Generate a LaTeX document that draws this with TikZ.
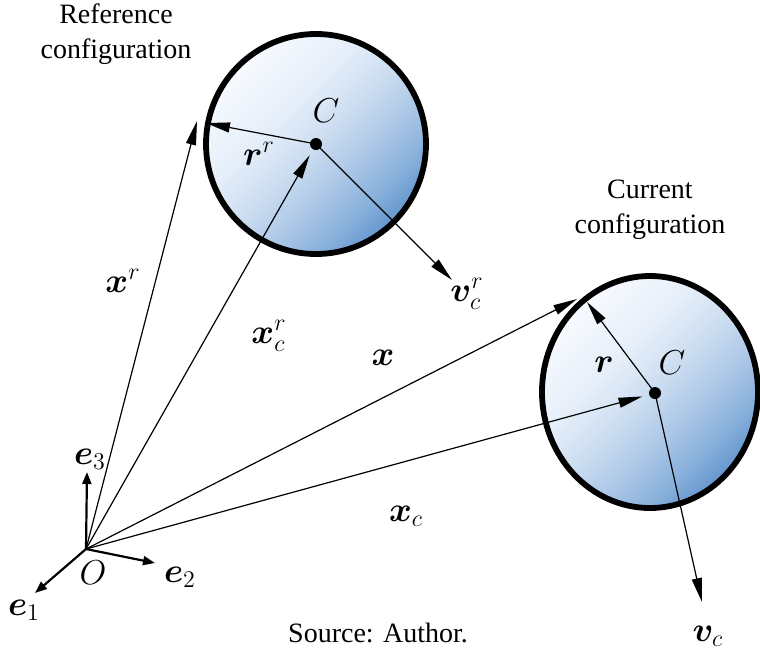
\documentclass[tikz,border=0pt]{standalone}
\usepackage{fontspec}
\setmainfont{Liberation Serif}
\usepackage{amsmath,bm}
\usetikzlibrary{arrows.meta,shapes.geometric}
\definecolor{shA}{RGB}{248,251,255}
\definecolor{shB}{RGB}{229,238,249}
\definecolor{shC}{RGB}{204,221,241}
\definecolor{shD}{RGB}{170,198,230}
\definecolor{shE}{RGB}{136,176,219}
\definecolor{shF}{RGB}{100,150,206}
\pgfdeclarehorizontalshading{ballshade}{100bp}{color(0bp)=(shA); color(25bp)=(shA); color(40bp)=(shB); color(50bp)=(shC); color(60bp)=(shD); color(68bp)=(shE); color(75bp)=(shF); color(100bp)=(shF)}
\begin{document}
\begin{tikzpicture}[x=0.5pt,y=-0.5pt,
  vec/.style={line width=0.6pt,-{Triangle[length=12pt,width=5pt]}},
  framevec/.style={line width=1.1pt,-{Triangle[length=6pt,width=4.5pt]}},
  ball/.style={ellipse, inner sep=0pt, line width=2.9pt, draw=black,
     shading=ballshade, shading angle=-45},
  lab/.style={font=\fontsize{16.5}{20}\selectfont, inner sep=0pt},
  txt/.style={font=\fontsize{14}{17}\selectfont, inner sep=0pt, anchor=base},
  dotc/.style={circle, fill=black, inner sep=0pt, minimum size=6pt}]
\useasboundingbox (0,0) rectangle (760,654);

% bodies
\node[ball, minimum width=110pt, minimum height=110pt] (B1) at (316,144) {};
\node[ball, minimum width=108pt, minimum height=116pt] (B2) at (650,392) {};
\node[dotc] (C1) at (316,144) {};
\node[dotc] (C2) at (655,393) {};

% points
\coordinate (O) at (86,549);
\coordinate (E1) at (35,593);
\coordinate (E2) at (155,563);
\coordinate (E3) at (87,472);
\coordinate (XR) at (197,121);
\coordinate (RR) at (206,123);
\coordinate (VR) at (452,280);
\coordinate (XX) at (577,299);
\coordinate (RC) at (587,302);
\coordinate (VC) at (702,602);

% frame
\draw[framevec] (O) -- (E1);
\draw[framevec] (O) -- (E2);
\draw[framevec] (O) -- (E3);

% vectors
\draw[vec] (O) -- (XR);
\draw[vec, shorten >=3.3pt] (O) -- (C1);
\draw[vec] (C1.center) -- (RR);
\draw[vec] (C1.center) -- (VR);
\draw[vec] (O) -- (XX);
\draw[vec, shorten >=3.3pt] (O) -- (C2);
\draw[vec] (C2.center) -- (RC);
\draw[vec] (C2.center) -- (VC);

% labels
\node[lab] (lC1) at (326,111) {$C$};
\node[lab] (lC2) at (672,363) {$C$};
\node[lab] (lrr) at (259,154) {$\bm{r}^r$};
\node[lab] (lr) at (604,365) {$\bm{r}$};
\node[lab] (lxr) at (123,281) {$\bm{x}^r$};
\node[lab] (lxcr) at (269,336) {$\bm{x}_c^r$};
\node[lab] (lx) at (383,358) {$\bm{x}$};
\node[lab] (lxc) at (406,516) {$\bm{x}_c$};
\node[lab] (lvcr) at (467,294) {$\bm{v}_c^r$};
\node[lab] (lvc) at (708,636) {$\bm{v}_c$};
\node[lab] (le3) at (90,459) {$\bm{e}_3$};
\node[lab] (le2) at (180,577) {$\bm{e}_2$};
\node[lab] (le1) at (24,610) {$\bm{e}_1$};
\node[lab] (lO) at (93,573) {$O$};

% texts
\node[txt] (ref1) at (116,23) {Reference};
\node[txt] (ref2) at (116,58) {configuration};
\node[txt] (cur1) at (650,198) {Current};
\node[txt] (cur2) at (650,233) {configuration};
\node[txt] (src) at (378,642) {Source: Author.};
\end{tikzpicture}
\end{document}
